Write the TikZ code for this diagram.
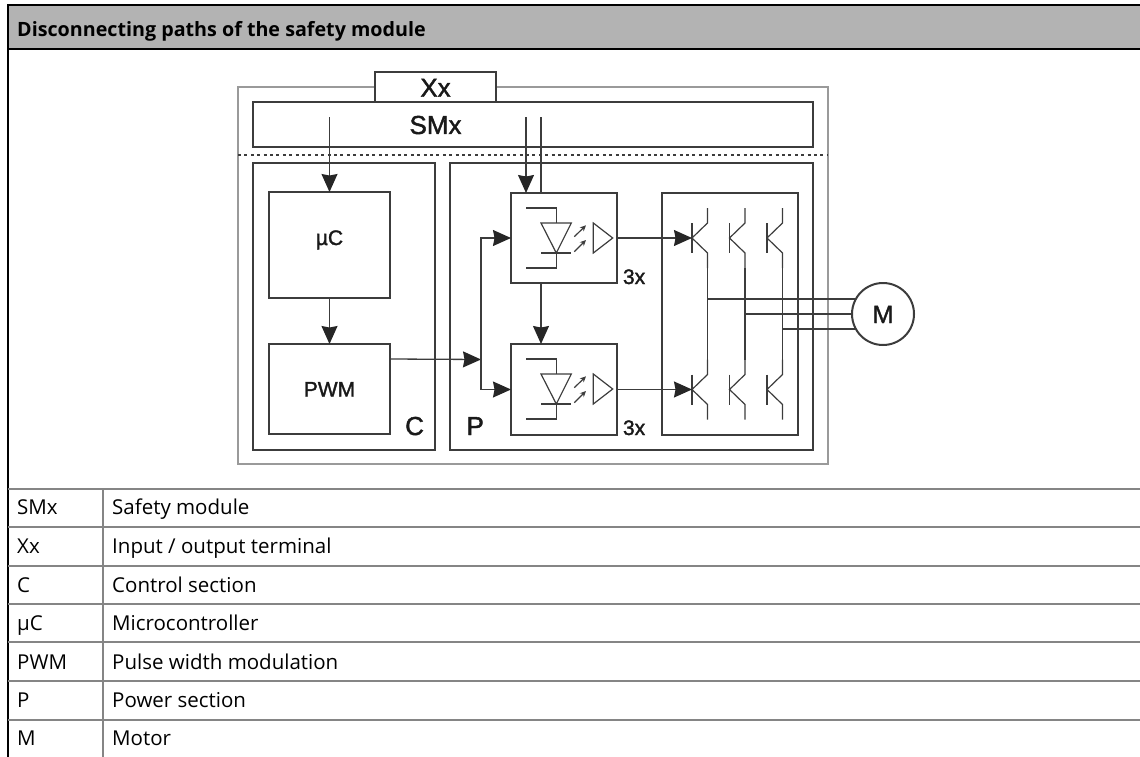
\documentclass[tikz,border=0pt]{standalone}
\usepackage{fontspec}
\setmainfont{Open Sans}
\newfontfamily\diagfont{Liberation Sans}[FakeBold=1.6]
\usetikzlibrary{arrows.meta,positioning,calc}
\definecolor{linegray}{HTML}{3C3C3C}
\definecolor{framegray}{HTML}{9A9A9A}
\definecolor{headgray}{HTML}{B3B3B3}
\definecolor{rulegray}{HTML}{858585}

\tikzset{
    pics/opto/.style={code={
        \draw[part] (15pt,-15pt) -- (45.3pt,-15pt) -- (45.3pt,-30pt);
        \draw[part] (30pt,-30pt) -- (60.3pt,-30pt) -- (45.3pt,-60pt) -- cycle;
        \draw[part] (30pt,-60pt) -- (60.3pt,-60pt);
        \draw[part] (45.3pt,-60pt) -- (45.3pt,-75pt) -- (15pt,-75pt);
        \draw[part, -{Stealth[length=6pt,width=5.5pt]}] (63.3pt,-43.7pt) -- (75pt,-32.3pt);
        \draw[part, -{Stealth[length=6pt,width=5.5pt]}] (63.3pt,-58.7pt) -- (75pt,-47pt);
        \draw[part] (82.3pt,-30pt) -- (82.3pt,-60pt) -- (101.7pt,-45pt) -- cycle;
    }},
    pics/igbt/.style={code={
        \coordinate (-b) at (0,0);
        \coordinate (-c) at (15.5pt,30pt);
        \coordinate (-e) at (15.5pt,-30pt);
        \draw[part] (0,15pt) -- (0,-15pt);
        \draw[part] (-c) -- (15.5pt,15pt) -- (0,0) -- (15.5pt,-15pt) -- (-e);
    }}
}

\begin{document}
\begin{tikzpicture}[
    part/.style={draw=linegray, line width=1.2pt},
    block/.style={rectangle, draw=linegray, line width=1.3pt, inner sep=0pt, outer sep=0pt, text height=15pt, text depth=0pt, text=black!90, font=\diagfont\fontsize{21}{21}\selectfont},
    frame/.style={rectangle, draw=framegray, line width=2.6pt, inner sep=0pt, outer sep=0pt},
    arrow/.style={draw=linegray, line width=1.3pt, -{Stealth[length=18pt,width=16pt,inset=1.5pt,color=black!85]}},
    wire/.style={draw=linegray, line width=1.3pt},
    tag/.style={inner sep=0pt, outer sep=0pt, text height=19pt, text depth=0pt, text=black!90, font=\diagfont\fontsize{26}{26}\selectfont},
    times/.style={inner sep=0pt, outer sep=0pt, text height=15pt, text depth=0pt, text=black!90, font=\diagfont\fontsize{21}{21}\selectfont},
    cell/.style={anchor=base west, inner sep=0pt, font=\fontsize{20.5}{24}\selectfont},
    rowline/.style={draw=rulegray, line width=1.6pt}
]
    \useasboundingbox (0,0) rectangle (1140pt,-757pt);

    % Header bar
    \node[rectangle, fill=headgray, inner sep=0pt, anchor=north west, minimum width=1132pt, minimum height=43.5pt] (head) at (8pt,-5pt) {};
    \node[anchor=base west, inner sep=0pt, font=\bfseries\fontsize{19.7}{24}\selectfont] (title) at (17pt,-37pt) {Disconnecting paths of the safety module};
    \draw[black, line width=2pt] (head.north east) -- (head.north west) -- (8pt,-757pt);
    \draw[black, line width=2pt] (head.south west) -- (head.south east);

    % Housing and sections
    \node[frame, anchor=north west, minimum width=590pt, minimum height=377pt] (outer) at (238pt,-87pt) {};
    \node[block, minimum width=560pt, minimum height=45pt, below right=15pt and 15pt of outer.north west] (smx) {};
    \node[block, fill=white, minimum width=121pt, minimum height=30pt, above right=0pt and 122pt of smx.north west, text height=19.5pt, font=\diagfont\fontsize{26}{26}\selectfont] (xx) {Xx};
    \node[tag, below=13pt of xx.south] (smxlabel) {SMx};
    \node[block, minimum width=182pt, minimum height=287pt, below right=16pt and 0pt of smx.south west] (ctrl) {};
    \node[block, minimum width=363pt, minimum height=287pt, right=15pt of ctrl] (power) {};
    \draw[wire, dash pattern=on 3pt off 3.4pt] ([yshift=-8pt]smx.south -| outer.west) -- ([yshift=-8pt]smx.south -| outer.east);

    % Control section
    \node[block, minimum width=121pt, minimum height=106pt, below right=29pt and 16pt of ctrl.north west, text height=0pt] (uc) {µC};
    \node[block, minimum width=121pt, minimum height=90pt, below=46pt of uc] (pwm) {PWM};
    \node[tag, above left=15pt and 11pt of ctrl.south east] (clabel) {C};

    % Power section
    \node[block, minimum width=106pt, minimum height=90pt, below right=30pt and 61pt of power.north west] (optoa) {};
    \node[block, minimum width=106pt, minimum height=91pt, below=61pt of optoa] (optob) {};
    \node[block, minimum width=136pt, minimum height=242pt, below right=0pt and 45pt of optoa.north east] (bridge) {};
    \node[tag, above right=15pt and 16.5pt of power.south west] (plabel) {P};
    \node[times, above right=-1pt and 6pt of optoa.south east] (xa) {3x};
    \node[times, above right=0pt and 6pt of optob.south east] (xb) {3x};
    \pic at (optoa.north west) {opto};
    \pic at (optob.north west) {opto};

    % Transistors
    \pic (qa) at ([xshift=30pt]bridge.west |- optoa) {igbt};
    \pic (qb) at ([xshift=67.5pt]bridge.west |- optoa) {igbt};
    \pic (qc) at ([xshift=105pt]bridge.west |- optoa) {igbt};
    \pic (qd) at ([xshift=30pt]bridge.west |- optob) {igbt};
    \pic (qe) at ([xshift=67.5pt]bridge.west |- optob) {igbt};
    \pic (qf) at ([xshift=105pt]bridge.west |- optob) {igbt};

    % Motor
    \node[circle, draw=linegray, line width=2pt, minimum size=62pt, inner sep=0pt, outer sep=0pt, right=54pt of bridge, text height=18pt, text depth=0pt, text=black!90, font=\diagfont\fontsize{25}{25}\selectfont] (motor) {M};

    % Free ends
    \coordinate (ucin) at ([yshift=7pt]uc.north |- smx.center);
    \coordinate (ina) at ([xshift=15pt,yshift=7pt]optoa.north west |- smx.center);
    \coordinate (inb) at ([xshift=30pt,yshift=7pt]optoa.north west |- smx.center);
    \coordinate (junc) at ([xshift=-30pt,yshift=30pt]optob.west);

    % Arrows
    \draw[arrow] (ucin) -- (uc.north);
    \draw[arrow] (uc) -- (pwm);
    \draw[arrow] ([yshift=30pt]pwm.east) -- (junc);
    \draw[arrow] (junc) |- (optoa.west);
    \draw[arrow] (junc) |- (optob.west);
    \draw[arrow] (ina) -- (ina |- optoa.north);
    \draw[wire] (inb) -- (inb |- optoa.north);
    \draw[arrow] (inb |- optoa.south) -- (inb |- optob.north);
    \draw[arrow] (optoa.east) -- (qa-b);
    \draw[arrow] (optob.east) -- (qd-b);

    % Bridge wiring
    \draw[wire] (qa-e) -- (qd-c);
    \draw[wire] (qb-e) -- (qe-c);
    \draw[wire] (qc-e) -- (qf-c);
    \draw[wire] (qa-e |- motor.151) -- (motor.151);
    \draw[wire] (qb-e |- motor.west) -- (motor.west);
    \draw[wire] (qc-e |- motor.209) -- (motor.209);

    % Legend table
    \foreach \y in {489,527,566,604,642,681,720}
        \draw[rowline] (8pt,-\y pt) -- (1140pt,-\y pt);
    \draw[rowline] (103pt,-489pt) -- (103pt,-757pt);
    \node[cell] (ka) at (17pt,-514pt) {SMx};
    \node[cell] (va) at (112pt,-514pt) {Safety module};
    \node[cell] (kb) at (17pt,-553pt) {Xx};
    \node[cell] (vb) at (112pt,-553pt) {Input / output terminal};
    \node[cell] (kc) at (17pt,-592pt) {C};
    \node[cell] (vc) at (112pt,-592pt) {Control section};
    \node[cell] (kd) at (17pt,-630pt) {µC};
    \node[cell] (vd) at (112pt,-630pt) {Microcontroller};
    \node[cell] (ke) at (17pt,-669pt) {PWM};
    \node[cell] (ve) at (112pt,-669pt) {Pulse width modulation};
    \node[cell] (kf) at (17pt,-707pt) {P};
    \node[cell] (vf) at (112pt,-707pt) {Power section};
    \node[cell] (kg) at (17pt,-745pt) {M};
    \node[cell] (vg) at (112pt,-745pt) {Motor};
\end{tikzpicture}
\end{document}
